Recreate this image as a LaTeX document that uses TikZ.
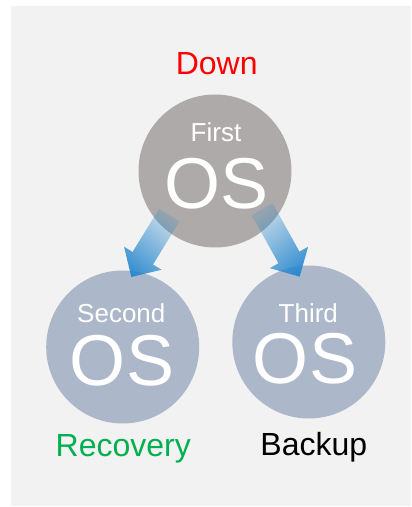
\documentclass[tikz,border=0pt]{standalone}
\usepackage{fontspec}
\setmainfont{Liberation Sans}
\usetikzlibrary{arrows.meta,calc,fadings}

\definecolor{bggray}{HTML}{F2F2F2}
\definecolor{downgray}{HTML}{AEAAA9}
\definecolor{osblue}{HTML}{ACB7CA}
\definecolor{arrowblue}{HTML}{2687CE}
\definecolor{okgreen}{HTML}{00B050}

\tikzfading[name=arrowfade, top color=transparent!85, bottom color=transparent!0]

\begin{document}
\begin{tikzpicture}[x=1pt, y=1pt,
    osnode/.style={circle, minimum size=153pt, inner sep=0pt},
    ostitle/.style={anchor=base, text=white, inner sep=0pt, font=\fontsize{26}{26}\selectfont},
    osmark/.style={anchor=base, text=white, inner sep=0pt, font=\fontsize{72}{72}\selectfont},
    statetext/.style={anchor=base, inner sep=0pt, font=\fontsize{32}{32}\selectfont},
    bigarrow/.style={draw=arrowblue, line width=24pt, -{Triangle[width=44pt, length=22pt, line width=0pt, fill=arrowblue]}, path fading=arrowfade}]

    % 背景
    \useasboundingbox (0,0) rectangle (412,507);
    \fill[bggray] (11,1) rectangle (411,501);

    % 画三个圆
    \node[osnode, fill=downgray] (first) at (215,336) {};
    \node[osnode, fill=osblue] (second) at (122.7,160) {};
    \node[osnode, fill=osblue] (third) at (308.8,165) {};

    % 插入文字
    \node[statetext, text=red] (down) at (216.7,432.7) {Down};
    \node[ostitle] (firsttitle) at (216,365.3) {First};
    \node[osmark] (firstos) at (216.5,298) {OS};
    \node[ostitle] (secondtitle) at (121.3,184.3) {Second};
    \node[osmark] (secondos) at (122,121) {OS};
    \node[ostitle] (thirdtitle) at (308.3,184.3) {Third};
    \node[osmark] (thirdos) at (305,123) {OS};
    \node[statetext, text=okgreen] (recovery) at (123.3,50.3) {Recovery};
    \node[statetext, text=black] (backup) at (313.8,52) {Backup};

    % 箭头
    \draw[bigarrow, fading angle=-31] ($(first.center)!0.83!(first.224)$) -- ($(second.center)!0.92!(second.83)$);
    \draw[bigarrow, fading angle=29] ($(first.center)!0.79!(first.321)$) -- ($(third.center)!0.86!(third.98)$);

\end{tikzpicture}
\end{document}
